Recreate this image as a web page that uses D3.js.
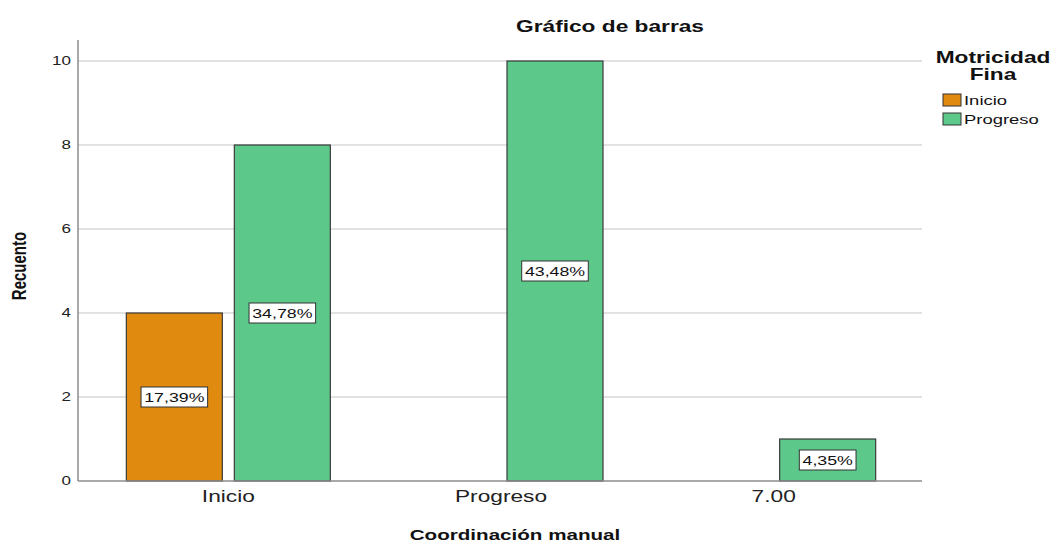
<!DOCTYPE html>
<html>
<head>
<meta charset="utf-8">
<script src="https://cdn.jsdelivr.net/npm/d3@7"></script>
<style>
  body { margin: 0; background: #fff; }
  text { font-family: "Liberation Sans", Arial, sans-serif; }
</style>
</head>
<body>
<svg class="d3svg" width="1053" height="542"></svg>
<script>
var inicio_color = '#E08A10';
var progreso_color = '#5CC98A';
var grid_color = '#D9D9D9';
var axis_color = '#8C8C8C';

// data
var categories = ['Inicio', 'Progreso', '7.00'];
var series = ['Inicio', 'Progreso'];
var inicio_counts = [4, 0, 0];
var progreso_counts = [8, 10, 1];
var inicio_labels = ['17,39%', '', ''];
var progreso_labels = ['34,78%', '43,48%', '4,35%'];
var y_ticks = [0, 2, 4, 6, 8, 10];

var svg = d3.select(".d3svg");

// the source picture is stretched sideways, so is every text
var k = 1.42;
var stretch = "scale(" + k + ",1)";

var plot_left = 78, plot_right = 922, plot_top = 40, plot_bottom = 481;

var x0 = d3.scaleBand().domain(categories).range([92, 910]);
var x1 = d3.scaleBand().domain(series).range([-102, 102]).paddingInner(12/108);
var y = d3.scaleLinear().domain([0, 10]).range([plot_bottom, 61]);

// gridlines
svg.append("g")
    .selectAll("line")
    .data(y_ticks.filter(function(d) { return d > 0; }))
    .enter()
    .append("line")
    .attr("x1", plot_left)
    .attr("x2", plot_right)
    .attr("y1", function(d) { return y(d); })
    .attr("y2", function(d) { return y(d); })
    .attr("stroke", grid_color)
    .attr("stroke-width", 1.5);

// axes
var yAxis = svg.append("g")
    .attr("transform", "translate(" + plot_left + ",0)")
    .call(d3.axisLeft(y).tickValues(y_ticks).tickSize(0).tickPadding(5).tickFormat(d3.format("d")));
yAxis.select(".domain").remove();
yAxis.selectAll("text")
    .attr("font-size", 12)
    .attr("fill", "#222")
    .attr("transform", stretch)
    .style("font-family", "'Liberation Sans', Arial, sans-serif");

svg.append("line")
    .attr("x1", plot_left).attr("x2", plot_left)
    .attr("y1", plot_top).attr("y2", plot_bottom)
    .attr("stroke", axis_color).attr("stroke-width", 1.5);

var xAxis = svg.append("g")
    .attr("transform", "translate(0," + plot_bottom + ")")
    .call(d3.axisBottom(x0).tickSize(0).tickPadding(10));
xAxis.select(".domain").remove();
xAxis.selectAll("text")
    .attr("font-size", 16)
    .attr("fill", "#222")
    .attr("transform", stretch)
    .style("font-family", "'Liberation Sans', Arial, sans-serif");

// bars
var rows = [];
categories.forEach(function(c, i) {
    rows.push({cat: c, ser: 'Inicio', v: inicio_counts[i], lab: inicio_labels[i], color: inicio_color});
    rows.push({cat: c, ser: 'Progreso', v: progreso_counts[i], lab: progreso_labels[i], color: progreso_color});
});
rows = rows.filter(function(d) { return d.v > 0; });

function bar_x(d) { return x0(d.cat) + x0.bandwidth() / 2 + x1(d.ser); }

svg.append("g")
    .selectAll("rect")
    .data(rows)
    .enter()
    .append("rect")
    .attr("x", bar_x)
    .attr("y", function(d) { return y(d.v); })
    .attr("width", x1.bandwidth())
    .attr("height", function(d) { return y(0) - y(d.v); })
    .attr("fill", function(d) { return d.color; })
    .attr("stroke", "#3A3A3A")
    .attr("stroke-width", 1.2);

svg.append("line")
    .attr("x1", plot_left).attr("x2", plot_right)
    .attr("y1", plot_bottom).attr("y2", plot_bottom)
    .attr("stroke", axis_color).attr("stroke-width", 1.5);

// percentage labels
var labels = svg.append("g")
    .selectAll("g")
    .data(rows)
    .enter()
    .append("g")
    .attr("transform", function(d) {
        return "translate(" + (bar_x(d) + x1.bandwidth() / 2) + "," + y(d.v / 2) + ")";
    });
labels.append("text")
    .attr("text-anchor", "middle")
    .attr("dy", "0.37em")
    .attr("font-size", 12.5)
    .attr("fill", "#111")
    .attr("transform", stretch)
    .text(function(d) { return d.lab; });
labels.each(function() {
    var g = d3.select(this);
    var bb = g.select("text").node().getBBox();
    var w = bb.width * k;
    g.insert("rect", "text")
        .attr("x", -w / 2 - 3)
        .attr("y", -10)
        .attr("width", w + 6)
        .attr("height", 20)
        .attr("fill", "#fff")
        .attr("stroke", "#333")
        .attr("stroke-width", 1);
});

// titles
function put_text(x, yy, size, bold, txt, sx) {
    return svg.append("text")
        .attr("transform", "translate(" + x + "," + yy + ") scale(" + (sx || k) + ",1)")
        .attr("text-anchor", "middle")
        .attr("font-size", size)
        .attr("font-weight", bold ? "bold" : "normal")
        .attr("fill", "#111")
        .text(txt);
}

put_text(610, 32, 16, true, "Gráfico de barras");
put_text(515, 540, 15.5, true, "Coordinación manual", 1.33);

svg.append("text")
    .attr("transform", "translate(26,266) scale(1.3,1) rotate(-90)")
    .attr("text-anchor", "middle")
    .attr("font-size", 15)
    .attr("font-weight", "bold")
    .attr("fill", "#111")
    .text("Recuento");

// legend
put_text(993, 63, 16, true, "Motricidad");
put_text(993, 80, 16, true, "Fina");

var legend_colors = [inicio_color, progreso_color];
var legend = svg.append("g")
    .selectAll("g")
    .data(series)
    .enter()
    .append("g")
    .attr("transform", function(d, i) { return "translate(943," + (94 + i * 19) + ")"; });
legend.append("rect")
    .attr("width", 18).attr("height", 12)
    .attr("fill", function(d, i) { return legend_colors[i]; })
    .attr("stroke", "#333").attr("stroke-width", 1);
legend.append("text")
    .attr("transform", "translate(21,11) " + stretch)
    .attr("font-size", 13)
    .attr("fill", "#111")
    .text(function(d) { return d; });
</script>
</body>
</html>
